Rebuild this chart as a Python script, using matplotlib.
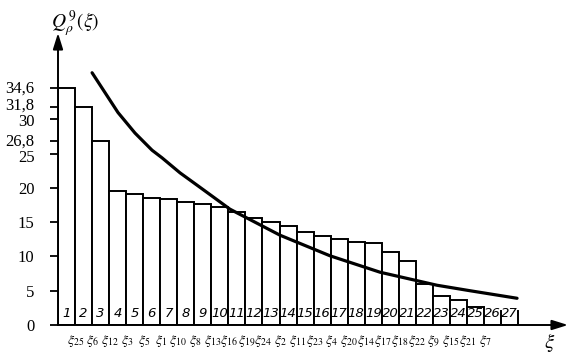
import matplotlib
matplotlib.use("Agg")
import matplotlib.pyplot as plt
import matplotlib.transforms as mtransforms

plt.rcParams["mathtext.fontset"] = "stix"

# ---- data ----
bar_numbers = list(range(1, 28))
bar_values = [34.6, 31.8, 26.8, 19.6, 19.1, 18.6, 18.4, 17.9, 17.6, 17.2,
              16.5, 15.6, 15.0, 14.5, 13.6, 13.0, 12.6, 12.1, 11.9, 10.7,
              9.4, 6.0, 4.3, 3.6, 2.6, 0.0, 0.0]
xi_indices = [25, 6, 12, 3, 5, 1, 10, 8, 13, 16, 19, 24, 2, 11, 23, 4, 20,
              14, 17, 18, 22, 9, 15, 21, 7]
curve_x = [2.50, 3.26, 4.02, 5.02, 6.02, 6.60, 7.66, 8.66, 9.60, 10.59,
           13.53, 16.46, 19.4, 22.74, 24.68, 27.44]
curve_y = [36.8, 33.9, 31.0, 28.0, 25.5, 24.4, 22.2, 20.4, 18.7, 16.9,
           13.1, 10.1, 7.7, 5.8, 5.0, 3.9]
ytick_values = [0, 5, 10, 15, 20, 25, 26.8, 30, 31.8, 34.6]
ytick_labels = ["0", "5", "10", "15", "20", "25", "26,8", "30", "31,8", "34,6"]

W, H = 571, 358
fig = plt.figure(figsize=(W / 100, H / 100), dpi=100)
x0px, x1px, y0px, y1px = 58, 568, 325, 33
ax = fig.add_axes([x0px / W, (H - y0px) / H, (x1px - x0px) / W, (y0px - y1px) / H])
ax.set_xlim(0.5, 30.43)
ax.set_ylim(0, 42.6)

for s in ["top", "right", "left", "bottom"]:
    ax.spines[s].set_visible(False)

# bars
ax.bar(bar_numbers, bar_values, width=1.0, color="white", edgecolor="black",
       linewidth=1.4, zorder=2)
# small cells for bars with no height
cell_h = 2.0
for n, v in zip(bar_numbers, bar_values):
    if v < cell_h:
        ax.plot([n + 0.5, n + 0.5], [0, cell_h], color="black", lw=1.4, zorder=3)

# numbers inside bars
for n in bar_numbers:
    ax.text(n, 1.7, str(n), ha="center", va="center", fontsize=9.5,
            style="italic", family="DejaVu Sans", zorder=4)

# curve
ax.plot(curve_x, curve_y, color="black", lw=2.3, zorder=5,
        solid_capstyle="round", solid_joinstyle="round")

# axes with arrows
ax.annotate("", xy=(30.43, 0), xytext=(0.5, 0), annotation_clip=False,
            arrowprops=dict(arrowstyle="-|>,head_length=0.8,head_width=0.25",
                            color="black", lw=1.4, mutation_scale=12,
                            shrinkA=0, shrinkB=0))
ax.annotate("", xy=(0.5, 42.6), xytext=(0.5, 0), annotation_clip=False,
            arrowprops=dict(arrowstyle="-|>,head_length=0.8,head_width=0.25",
                            color="black", lw=1.4, mutation_scale=12,
                            shrinkA=0, shrinkB=0))

# y ticks
ax.set_yticks(ytick_values)
ax.set_yticklabels(ytick_labels, family="Liberation Serif", fontsize=12)
ax.tick_params(axis="y", length=6, width=1.3, pad=11, direction="out")
ax.set_xticks([])
nudges = {"34,6": 1, "31,8": 3, "30": -1, "26,8": 2, "25": -2}
for lab in ax.get_yticklabels():
    d = nudges.get(lab.get_text(), 0)
    if d:
        lab.set_transform(lab.get_transform() +
                          mtransforms.ScaledTranslation(0, d / 100, fig.dpi_scale_trans))

# xi labels below the x axis at right edges of bars
for i, k in enumerate(xi_indices):
    ax.text(i + 1.55, -2.3, r"$\xi_{%d}$" % k, ha="center", va="center",
            fontsize=10, clip_on=False)
ax.text(29.37, -2.6, r"$\xi$", ha="center", va="center", fontsize=15, clip_on=False)

# y axis label
fig.text(75 / W, 1 - 24 / H, r"$Q^{\,9}_{\rho}(\xi)$", ha="center", va="center",
         fontsize=14)

fig.savefig("out.png", dpi=100, facecolor="white")
